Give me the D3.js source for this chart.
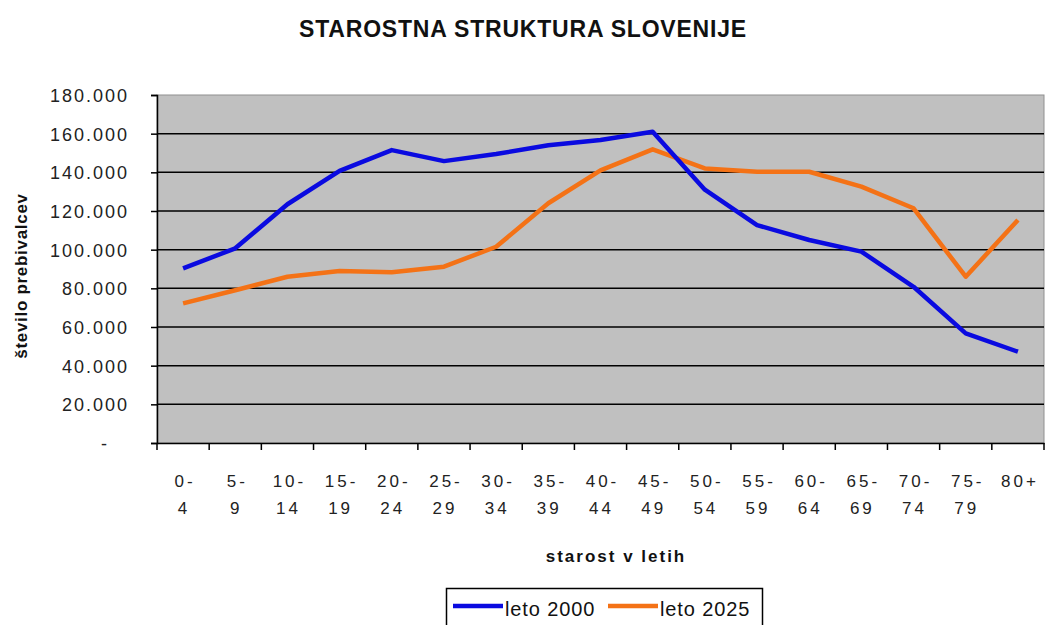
<!DOCTYPE html>
<html>
<head>
<meta charset="utf-8">
<script src="https://cdn.jsdelivr.net/npm/d3@7"></script>
<style>
  body { margin: 0; background: #fff; }
  svg { font-family: 'Liberation Sans', Arial, sans-serif; }
</style>
</head>
<body>
<div class="Canvas"></div>
<script>
const categories = ['0-4', '5-9', '10-14', '15-19', '20-24', '25-29', '30-34', '35-39', '40-44',
  '45-49', '50-54', '55-59', '60-64', '65-69', '70-74', '75-79', '80+'];
const leto2000 = [90300, 100700, 123500, 140800, 151500, 145800, 149500, 154000, 156700,
  161000, 131000, 112700, 105000, 99000, 80800, 56700, 47200];
const leto2025 = [72200, 79000, 86000, 89000, 88300, 91200, 101500, 124000, 141000,
  151900, 142000, 140300, 140300, 132600, 121400, 86000, 115300];
const yTicks = [0, 20000, 40000, 60000, 80000, 100000, 120000, 140000, 160000, 180000];

const width = 1046;
const height = 625;
const plot = { left: 157, right: 1044, top: 95, bottom: 443 };
const font = "'Liberation Sans', Arial, sans-serif";

const svg = d3.select('.Canvas').append('svg').attr('width', width).attr('height', height);

const x = d3.scaleBand().domain(categories).range([plot.left, plot.right]);
const y = d3.scaleLinear().domain([0, 180000]).range([plot.bottom, plot.top]);

// plot area
svg.append('rect')
  .attr('x', plot.left).attr('y', plot.top)
  .attr('width', plot.right - plot.left).attr('height', plot.bottom - plot.top)
  .attr('fill', '#c0c0c0')
  .attr('stroke', '#909090').attr('stroke-width', 1);

// gridlines
svg.append('g')
  .selectAll('line')
  .data(yTicks.filter((d) => d > 0 && d < 180000))
  .enter()
  .append('line')
  .attr('x1', plot.left).attr('x2', plot.right)
  .attr('y1', (d) => y(d)).attr('y2', (d) => y(d))
  .attr('stroke', '#000').attr('stroke-width', 1.5);

// y axis
const fmt = (d) => (d === 0 ? '-' : d3.format(',')(d).replace(/,/g, '.'));
const yAxis = svg.append('g')
  .attr('transform', `translate(${plot.left},0)`)
  .call(d3.axisLeft(y).tickValues(yTicks).tickSize(6).tickPadding(10).tickFormat(fmt));
yAxis.select('.domain').attr('stroke', '#000').attr('stroke-width', 1.5);
yAxis.selectAll('.tick line').attr('stroke', '#000').attr('stroke-width', 1.5);
yAxis.selectAll('text')
  .attr('font-size', '18px').attr('fill', '#222')
  .attr('font-family', font)
  .attr('letter-spacing', '2px')
  .attr('x', (d) => (d === 0 ? -48 : -28))
  .attr('dy', '0.36em');

// x axis
const xAxis = svg.append('g')
  .attr('transform', `translate(0,${plot.bottom})`)
  .call(d3.axisBottom(x).tickSize(0).tickFormat(''));
xAxis.select('.domain').attr('stroke', '#000').attr('stroke-width', 1.5);
svg.append('g')
  .selectAll('line')
  .data(d3.range(categories.length + 1))
  .enter()
  .append('line')
  .attr('x1', (i) => plot.left + i * x.step()).attr('x2', (i) => plot.left + i * x.step())
  .attr('y1', plot.bottom).attr('y2', plot.bottom + 7)
  .attr('stroke', '#000').attr('stroke-width', 1.5);

const xLabels = svg.append('g')
  .selectAll('text')
  .data(categories)
  .enter()
  .append('text')
  .attr('text-anchor', 'middle')
  .attr('font-size', '17px')
  .attr('letter-spacing', '3px')
  .attr('fill', '#222');
xLabels.append('tspan')
  .attr('x', (d) => x(d) + x.bandwidth() / 2 + 2)
  .attr('y', 487)
  .text((d) => (d.includes('-') ? d.split('-')[0] + '-' : d));
xLabels.append('tspan')
  .attr('x', (d) => x(d) + x.bandwidth() / 2 + 1)
  .attr('y', 514)
  .text((d) => (d.includes('-') ? d.split('-')[1] : ''));

// lines
const line = d3.line()
  .x((d, i) => x(categories[i]) + x.bandwidth() / 2)
  .y((d) => y(d));

svg.append('path')
  .datum(leto2025)
  .attr('d', line)
  .attr('fill', 'none')
  .attr('stroke', '#f47216')
  .attr('stroke-width', 4.5)
  .attr('stroke-linejoin', 'round');
svg.append('path')
  .datum(leto2000)
  .attr('d', line)
  .attr('fill', 'none')
  .attr('stroke', '#0a0ae0')
  .attr('stroke-width', 4.5)
  .attr('stroke-linejoin', 'round');

// titles
svg.append('text')
  .attr('x', 523).attr('y', 37)
  .attr('text-anchor', 'middle')
  .attr('font-size', '23px').attr('font-weight', 'bold')
  .attr('letter-spacing', '0.8px')
  .attr('fill', '#111')
  .text('STAROSTNA STRUKTURA SLOVENIJE');

svg.append('text')
  .attr('x', 616).attr('y', 562)
  .attr('text-anchor', 'middle')
  .attr('font-size', '17px').attr('font-weight', 'bold')
  .attr('letter-spacing', '2px')
  .attr('fill', '#111')
  .text('starost v letih');

svg.append('text')
  .attr('transform', 'translate(27,276) rotate(-90)')
  .attr('text-anchor', 'middle')
  .attr('font-size', '17px').attr('font-weight', 'bold')
  .attr('letter-spacing', '0.7px')
  .attr('fill', '#111')
  .text('število prebivalcev');

// legend
const legend = svg.append('g');
legend.append('rect')
  .attr('x', 446.5).attr('y', 588.5)
  .attr('width', 316).attr('height', 40)
  .attr('fill', '#fff').attr('stroke', '#000').attr('stroke-width', 1.5);
const legendItems = [
  { name: 'leto 2000', color: '#0a0ae0', x: 453 },
  { name: 'leto 2025', color: '#f47216', x: 608 },
];
legendItems.forEach((item) => {
  legend.append('line')
    .attr('x1', item.x).attr('x2', item.x + 50)
    .attr('y1', 606).attr('y2', 606)
    .attr('stroke', item.color).attr('stroke-width', 4.5);
  legend.append('text')
    .attr('x', item.x + 52).attr('y', 616)
    .attr('font-size', '20px').attr('letter-spacing', '0.9px').attr('fill', '#111')
    .text(item.name);
});
</script>
</body>
</html>
